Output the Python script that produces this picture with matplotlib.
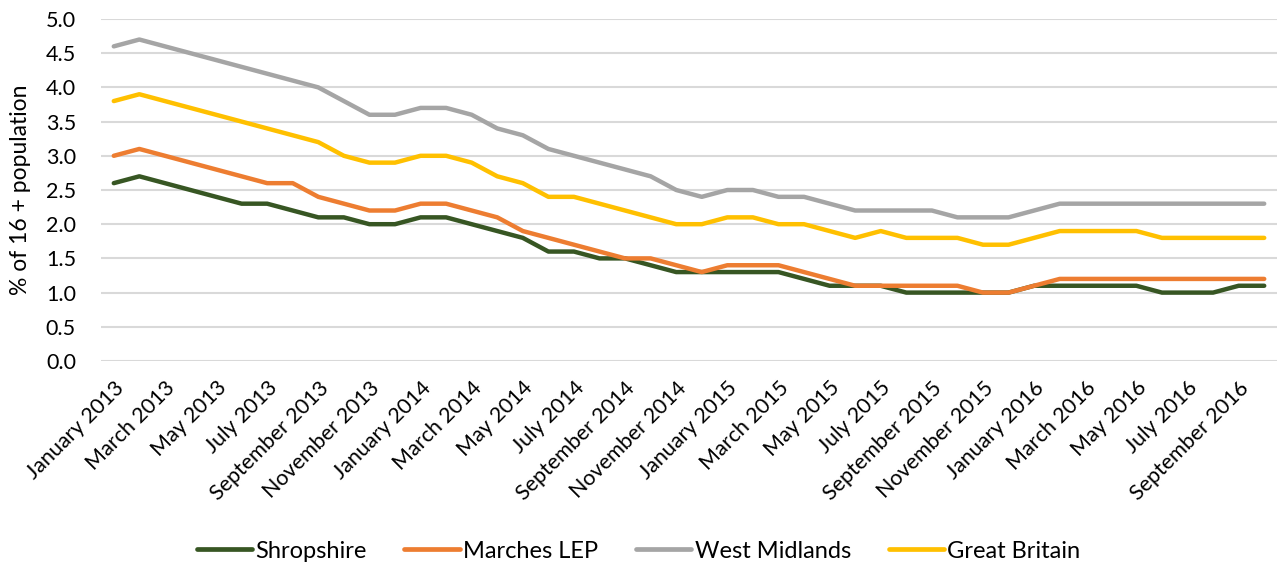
import numpy as np
import pandas as pd
import matplotlib
matplotlib.use("Agg")
import matplotlib.pyplot as plt

plt.rcParams['font.family'] = ['Lato', 'DejaVu Sans']

# monthly, January 2013 .. October 2016
months = pd.date_range("2013-01-01", "2016-10-01", freq="MS")
month_labels = [m.strftime("%B %Y") for m in months]

shropshire = [2.6, 2.7, 2.6, 2.5, 2.4, 2.3, 2.3, 2.2, 2.1, 2.1, 2.0, 2.0,
              2.1, 2.1, 2.0, 1.9, 1.8, 1.6, 1.6, 1.5, 1.5, 1.4, 1.3, 1.3,
              1.3, 1.3, 1.3, 1.2, 1.1, 1.1, 1.1, 1.0, 1.0, 1.0, 1.0, 1.0,
              1.1, 1.1, 1.1, 1.1, 1.1, 1.0, 1.0, 1.0, 1.1, 1.1]
marches = [3.0, 3.1, 3.0, 2.9, 2.8, 2.7, 2.6, 2.6, 2.4, 2.3, 2.2, 2.2,
           2.3, 2.3, 2.2, 2.1, 1.9, 1.8, 1.7, 1.6, 1.5, 1.5, 1.4, 1.3,
           1.4, 1.4, 1.4, 1.3, 1.2, 1.1, 1.1, 1.1, 1.1, 1.1, 1.0, 1.0,
           1.1, 1.2, 1.2, 1.2, 1.2, 1.2, 1.2, 1.2, 1.2, 1.2]
west_midlands = [4.6, 4.7, 4.6, 4.5, 4.4, 4.3, 4.2, 4.1, 4.0, 3.8, 3.6, 3.6,
                 3.7, 3.7, 3.6, 3.4, 3.3, 3.1, 3.0, 2.9, 2.8, 2.7, 2.5, 2.4,
                 2.5, 2.5, 2.4, 2.4, 2.3, 2.2, 2.2, 2.2, 2.2, 2.1, 2.1, 2.1,
                 2.2, 2.3, 2.3, 2.3, 2.3, 2.3, 2.3, 2.3, 2.3, 2.3]
great_britain = [3.8, 3.9, 3.8, 3.7, 3.6, 3.5, 3.4, 3.3, 3.2, 3.0, 2.9, 2.9,
                 3.0, 3.0, 2.9, 2.7, 2.6, 2.4, 2.4, 2.3, 2.2, 2.1, 2.0, 2.0,
                 2.1, 2.1, 2.0, 2.0, 1.9, 1.8, 1.9, 1.8, 1.8, 1.8, 1.7, 1.7,
                 1.8, 1.9, 1.9, 1.9, 1.9, 1.8, 1.8, 1.8, 1.8, 1.8]

series = [("Shropshire", shropshire, "#375623"),
          ("Marches LEP", marches, "#ED7D31"),
          ("West Midlands", west_midlands, "#A5A5A5"),
          ("Great Britain", great_britain, "#FFC000")]

fig = plt.figure(figsize=(12.77, 5.68), dpi=100)
ax = fig.add_axes([101 / 1277, 1 - 361 / 568, 1176 / 1277, 342 / 568])

x = np.arange(len(months))
for name, vals, col in series:
    ax.plot(x, vals, color=col, lw=3.2, label=name,
            solid_capstyle='round', solid_joinstyle='round')

ax.set_xlim(-0.5, len(months) - 0.5)
ax.set_ylim(0, 5)
yt = np.arange(0, 5.01, 0.5)
ax.set_yticks(yt)
ax.set_yticklabels([f"{v:.1f}" for v in yt], fontsize=15.5)
ax.yaxis.grid(True, color="#D9D9D9", lw=1.5)
ax.set_axisbelow(True)

ax.set_xticks(x[::2])
ax.set_xticklabels(month_labels[::2], rotation=45, ha='right',
                   rotation_mode='anchor', fontsize=15.5)
ax.tick_params(axis='y', length=0, pad=18)
ax.tick_params(axis='x', length=0, pad=12)
for s in ax.spines.values():
    s.set_visible(False)

ax.set_ylabel("% of 16 + population", fontsize=16.5)
ax.yaxis.set_label_coords(-0.0595, 0.5)

leg = fig.legend(loc='center', bbox_to_anchor=(0.5, 1 - 551 / 568), ncol=4,
                 frameon=False, fontsize=17, handlelength=2.33,
                 handletextpad=0.15, columnspacing=1.6)
for h in leg.get_lines():
    h.set_linewidth(3.4)
    h.set_solid_capstyle('round')

fig.savefig("out.png", dpi=100)
